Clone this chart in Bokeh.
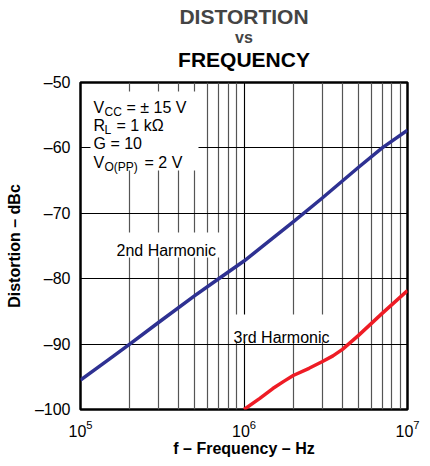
from bokeh.plotting import figure
from bokeh.models import FixedTicker, Label, Range1d, Title, LogAxis
from bokeh.embed import file_html
from bokeh.resources import INLINE

# ---- data ----
freq_2nd = [1e5, 1.5e5, 2e5, 3e5, 5e5, 7e5, 1e6, 1.5e6, 2e6, 3e6, 5e6, 7e6, 1e7]
dist_2nd = [-95.5, -92.3, -90.0, -86.7, -82.6, -80.0, -77.3, -73.8, -71.3, -67.7, -63.0, -60.0, -57.3]
freq_3rd = [1e6, 1.25e6, 1.5e6, 1.75e6, 2e6, 2.5e6, 3e6, 3.5e6, 4e6, 5e6, 7e6, 1e7]
dist_3rd = [-100.0, -98.3, -96.8, -95.7, -94.8, -93.7, -92.7, -91.8, -90.8, -88.7, -85.3, -81.8]
x_ticks = [1e5, 1e6, 1e7]
x_tick_labels = ["100k", "1M", "10M"]
y_ticks = [-100, -90, -80, -70, -60, -50]
y_tick_labels = ["\u2013100", "\u201390", "\u201380", "\u201370", "\u201360", "\u201350"]

FONT = "Liberation Sans"

# page-pixel helpers (frame: x 80..407, y 82..409 on page)
FL, FR, FT, FB = 80.0, 407.0, 82.0, 409.0
def X(px):
    return 10 ** (5 + (px - FL) / (FR - FL) * 2)
def Y(py):
    return -100 + (FB - py) * 50.0 / (FB - FT)

p = figure(x_axis_type="log", output_backend="svg", toolbar_location=None,
           width=430, height=466,
           min_border_left=80, min_border_right=23, min_border_top=82, min_border_bottom=57,
           x_range=Range1d(1e5, 1e7), y_range=Range1d(-100, -50))
p.background_fill_color = "white"
p.border_fill_color = "white"
p.outline_line_color = "black"
p.outline_line_width = 2.5

# title line 3: label of an empty axis just above the frame
top_axis = LogAxis(ticker=FixedTicker(ticks=[], minor_ticks=[]),
                   axis_label="FREQUENCY", axis_label_text_font=FONT,
                   axis_label_text_font_size="21px", axis_label_text_font_style="bold",
                   axis_label_text_color="black", axis_label_standoff=12,
                   axis_line_color=None, major_tick_out=0, major_tick_in=0,
                   minor_tick_out=0, minor_tick_in=0, major_label_standoff=0,
                   major_label_text_font_size="0px")
p.add_layout(top_axis, "above")
# title line 2
p.add_layout(Title(text="vs", text_font=FONT, text_font_size="16px", text_font_style="bold",
                   align="center", standoff=-2), "above")
# title line 1
p.title.text = "DISTORTION"
p.title.text_font = FONT
p.title.text_font_size = "21px"
p.title.text_font_style = "bold"
p.title.align = "center"
p.title.standoff = 0

minor = [m * d for d in [1e5, 1e6] for m in range(2, 10)]
p.xaxis[0].ticker = FixedTicker(ticks=x_ticks, minor_ticks=minor)
p.xaxis[0].major_label_overrides = {t: l for t, l in zip(x_ticks, x_tick_labels)}
p.yaxis.ticker = FixedTicker(ticks=y_ticks)
p.yaxis.major_label_overrides = {t: l for t, l in zip(y_ticks, y_tick_labels)}

bottom_axis = p.below[0]
for ax in (bottom_axis, p.yaxis[0]):
    ax.axis_line_color = None
    ax.major_tick_line_color = None
    ax.minor_tick_line_color = None
    ax.major_tick_out = 0
    ax.major_tick_in = 0
    ax.minor_tick_out = 0
    ax.minor_tick_in = 0
    ax.major_label_text_font = FONT
    ax.major_label_text_font_size = "16px"
    ax.major_label_text_color = "black"
    ax.axis_label_text_font = FONT
    ax.axis_label_text_font_size = "16px"
    ax.axis_label_text_font_style = "bold"
    ax.axis_label_text_color = "black"

bottom_axis.axis_label = "f \u2013 Frequency \u2013 Hz"
p.yaxis.axis_label = "Distortion \u2013 dBc"
bottom_axis.major_label_standoff = 10
p.yaxis.major_label_standoff = 10
bottom_axis.axis_label_standoff = 0
p.yaxis.axis_label_standoff = 9

p.xgrid.grid_line_color = "black"
p.xgrid.grid_line_width = 1
p.xgrid.minor_grid_line_color = "#555555"
p.xgrid.minor_grid_line_width = 1.2
p.ygrid.grid_line_color = "black"
p.ygrid.grid_line_width = 1

# white boxes behind the annotations
p.quad(left=[X(90), X(110), X(229)], right=[X(198), X(222), X(335)],
       top=[Y(91), Y(232), Y(314)], bottom=[Y(170), Y(257), Y(341)],
       fill_color="white", line_color=None)

# curves
p.line(freq_2nd, dist_2nd, line_color="#2E3192", line_width=3.5, line_join="round")
p.line(freq_3rd, dist_3rd, line_color="#EE1C25", line_width=3.5, line_join="round")

def lab(px, py, txt, size="16px"):
    p.add_layout(Label(x=X(px), y=Y(py), text=txt, text_font=FONT,
                       text_font_size=size, text_align="left",
                       text_baseline="alphabetic", text_color="black"))

# parameter block
lab(93, 107, "V")
lab(104, 111, "CC", size="12px")
lab(126, 107, "= \u00b1 15 V")
lab(93, 125, "R")
lab(104, 129, "L", size="12px")
lab(116, 125, "= 1 k\u03a9")
lab(93, 143, "G = 10")
lab(93, 162, "V")
lab(104, 166, "O(PP)", size="12px")
lab(144, 162, "= 2 V")

lab(116, 250, "2nd Harmonic")
lab(233, 337, "3rd Harmonic")

open("out.html", "w").write(file_html(p, INLINE))
